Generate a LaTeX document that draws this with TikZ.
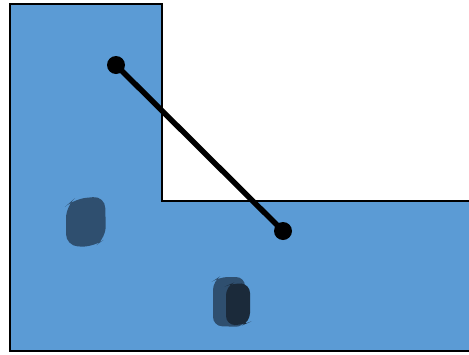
\documentclass[tikz,border=0pt]{standalone}
\begin{document}
\begin{tikzpicture}[x=1pt,y=-1pt]
\definecolor{fillblue}{HTML}{5B9BD5}
\definecolor{blobA}{HTML}{2F4F6F}
\definecolor{blobB}{HTML}{1B2A3A}
\tikzset{dotnode/.style={circle,fill=black,inner sep=0pt,minimum size=18pt},
  outline/.style={draw=black,line width=1.3pt},
  link/.style={line width=5.5pt,black}}
\useasboundingbox (0,0) rectangle (469,354);
\fill[fillblue] (10,4) -- (162,4) -- (162,201) -- (469,201) -- (469,351) -- (10,351) -- cycle;
\draw[outline] (469,201) -- (162,201) -- (162,4) -- (10,4) -- (10,351) -- (469,351);
% blobs
\fill[blobA,rounded corners=12pt] (66,206) -- (74,199) -- (105,196) -- (106,238) -- (94,247) -- (66,246) -- cycle;
\fill[blobA,rounded corners=9pt] (213,281) -- (219,277) -- (245,277) -- (245,327) -- (213,326) -- cycle;
\fill[blobB,rounded corners=9pt] (226,286) -- (233,283) -- (250,284) -- (250,322) -- (243,325) -- (226,325) -- cycle;
\node[dotnode] (a) at (116,65) {};
\node[dotnode] (b) at (283,231) {};
\draw[link] (a.center) -- (b.center);
\end{tikzpicture}
\end{document}
